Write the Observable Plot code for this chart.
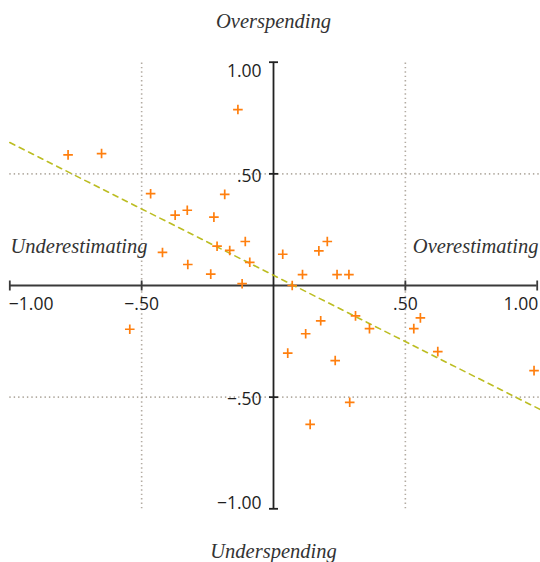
<!DOCTYPE html>
<html>
<head>
<meta charset="utf-8">
<script src="https://cdn.jsdelivr.net/npm/d3@7"></script>
<script src="https://cdn.jsdelivr.net/npm/@observablehq/plot@0.6"></script>
<style>
  html, body { margin: 0; padding: 0; background: #fff; }
  #chart svg { display: block; }
</style>
</head>
<body>
<div id="chart"></div>
<script>
// Estimation error (x) vs spending deviation (y)
const pointX = [-0.779, -0.652, -0.135, -0.466, -0.185, -0.373, -0.327, -0.226, -0.421, -0.325,
                -0.238, -0.214, -0.166, -0.107, -0.090, -0.119, 0.035, 0.172, 0.204, 0.110,
                0.071, 0.241, 0.286, 0.054, 0.122, 0.179, 0.311, 0.364, 0.234, 0.532,
                0.557, 0.623, 0.289, 0.139, -0.545, 0.988];
const pointY = [0.585, 0.591, 0.788, 0.411, 0.408, 0.315, 0.337, 0.306, 0.148, 0.094,
                0.051, 0.176, 0.157, 0.197, 0.104, 0.008, 0.140, 0.155, 0.197, 0.049,
                0.000, 0.049, 0.049, -0.303, -0.216, -0.158, -0.136, -0.193, -0.336, -0.193,
                -0.145, -0.296, -0.523, -0.622, -0.196, -0.381];
// fitted trend line endpoints
const trendX = [-1.0, 1.0125];
const trendY = [0.640, -0.556];

const xTicks = [-1, -0.5, 0.5, 1];
const xTickLabels = ["\u22121.00", "\u2212.50", ".50", "1.00"];
const yTicks = [1, 0.5, -0.5, -1];
const yTickLabels = ["1.00", ".50", "\u2212.50", "\u22121.00"];
const gridValues = [-0.5, 0.5];

const quadrantLabels = {
  top: "Overspending",
  bottom: "Underspending",
  left: "Underestimating",
  right: "Overestimating"
};

const points = pointX.map((x, i) => ({x, y: pointY[i]}));
const trend = trendX.map((x, i) => ({x, y: trendY[i]}));
const xt = xTicks.map((v, i) => ({v, label: xTickLabels[i]}));
const yt = yTicks.map((v, i) => ({v, label: yTickLabels[i]}));
const xMin = d3.min(xTicks), xMax = d3.max(xTicks);
const yMin = d3.min(yTicks), yMax = d3.max(yTicks);

const plusSym = { draw(ctx) { const h = 4.8; ctx.moveTo(-h, 0); ctx.lineTo(h, 0); ctx.moveTo(0, -h); ctx.lineTo(0, h); } };
const vTick = { draw(ctx) { ctx.moveTo(0, -5); ctx.lineTo(0, 5); } };
const hTick = { draw(ctx) { ctx.moveTo(-4.5, 0); ctx.lineTo(4.5, 0); } };

const tickFont = {fontFamily: "'Open Sans', sans-serif", fontSize: 17.5, fill: "#1e1e1e"};
const titleFont = {fontFamily: "'Liberation Serif', serif", fontStyle: "italic", fontSize: 20.5, fill: "#333"};
const gridStyle = {stroke: "#b3aca2", strokeWidth: 1.6, strokeDasharray: "1.4 3"};

const chart = Plot.plot({
  width: 540,
  height: 562,
  marginTop: 61.7,
  marginBottom: 53.7,
  marginLeft: 9.3,
  marginRight: 0,
  x: {domain: [-1, 1.0125], axis: null},
  y: {domain: [-1, 1], axis: null},
  style: {background: "#fff", overflow: "visible"},
  marks: [
    Plot.ruleX(gridValues, {x: d => d, y1: -1, y2: 1, ...gridStyle}),
    Plot.ruleY(gridValues, {y: d => d, x1: -1, x2: 1.0125, ...gridStyle}),
    Plot.ruleY([0], {x1: -1, x2: 1, stroke: "#3a3a3a", strokeWidth: 2}),
    Plot.ruleX([0], {y1: -1, y2: 1, stroke: "#222", strokeWidth: 1.8}),
    Plot.dot(xt, {x: "v", y: 0, symbol: vTick, fill: "none", stroke: "#3a3a3a", strokeWidth: 1.8}),
    Plot.dot(yt, {x: 0, y: "v", symbol: hTick, fill: "none", stroke: "#222", strokeWidth: 1.8}),
    Plot.line(trend, {x: "x", y: "y", stroke: "#bcbd22", strokeWidth: 1.6, strokeDasharray: "5.5 5"}),
    Plot.dot(points, {x: "x", y: "y", symbol: plusSym, fill: "none", stroke: "#ff7f0e", strokeWidth: 1.7}),
    // x tick labels
    Plot.text(xt.filter(d => d.v === xMin), {x: "v", y: 0, text: "label", dy: 19, dx: -1, textAnchor: "start", ...tickFont}),
    Plot.text(xt.filter(d => d.v !== xMin && d.v !== xMax), {x: "v", y: 0, text: "label", dy: 19, textAnchor: "middle", ...tickFont}),
    Plot.text(xt.filter(d => d.v === xMax), {x: "v", y: 0, text: "label", dy: 19, dx: 1, textAnchor: "end", ...tickFont}),
    // y tick labels
    Plot.text(yt.filter(d => d.v === yMax), {x: 0, y: "v", text: "label", dx: -12, dy: 9, textAnchor: "end", ...tickFont}),
    Plot.text(yt.filter(d => d.v !== yMax && d.v !== yMin), {x: 0, y: "v", text: "label", dx: -12, dy: 2.5, textAnchor: "end", ...tickFont}),
    Plot.text(yt.filter(d => d.v === yMin), {x: 0, y: "v", text: "label", dx: -12, dy: -5, textAnchor: "end", ...tickFont}),
    // quadrant labels
    Plot.text([quadrantLabels.top], {x: 0, y: 1, text: d => d, dy: -41, textAnchor: "middle", ...titleFont}),
    Plot.text([quadrantLabels.bottom], {x: 0, y: -1, text: d => d, dy: 42.7, textAnchor: "middle", ...titleFont}),
    Plot.text([quadrantLabels.left], {x: -1, y: 0, text: d => d, dx: 0.7, dy: -39.3, textAnchor: "start", ...titleFont}),
    Plot.text([quadrantLabels.right], {x: 1.0125, y: 0, text: d => d, dx: -2, dy: -39.3, textAnchor: "end", ...titleFont})
  ]
});
document.getElementById("chart").appendChild(chart);
</script>
</body>
</html>
